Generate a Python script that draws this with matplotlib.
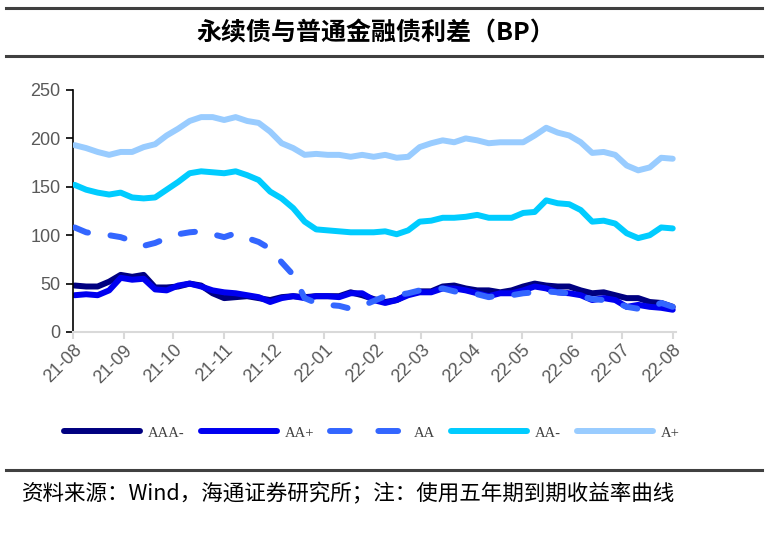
import matplotlib
matplotlib.use("Agg")
import matplotlib.pyplot as plt
import matplotlib.dates as mdates
import pandas as pd
from matplotlib.lines import Line2D

dates = pd.date_range("2021-08-02", periods=53, freq="7D")

aaa_minus = [48, 47, 47, 52, 59, 57, 59, 46, 46, 47, 50, 48, 40, 35, 36, 37, 35, 33,
             36, 37, 36, 37, 37, 37, 41, 38, 34, 31, 33, 39, 42, 42, 47, 48, 45, 43,
             43, 41, 43, 47, 50, 48, 47, 47, 43, 40, 41, 38, 35, 35, 31, 30, 26]
aa_plus = [38, 39, 38, 43, 56, 54, 55, 44, 43, 48, 50, 47, 43, 41, 40, 38, 36, 31,
           35, 37, 35, 37, 37, 36, 40, 40, 33, 30, 33, 38, 41, 41, 45, 45, 43, 40,
           37, 40, 40, 43, 47, 45, 41, 40, 38, 33, 35, 33, 26, 28, 26, 25, 23]
aa = [108, 103, 101, 100, 98, 94, 89, 92, 97, 101, 103, 104, 101, 98, 102, 97, 93, 86,
      72, 59, 35, 30, 28, 27, 24, 27, 32, 37, 38, 40, 43, 44, 45, 42, 40, 39,
      36, 38, 38, 40, 41, 42, 41, 40, 37, 34, 33, 31, 26, 24, 25, 30, 26]
aa_minus = [152, 147, 144, 142, 144, 139, 138, 139, 147, 155, 164, 166, 165, 164, 166, 162, 157, 145,
            138, 128, 114, 106, 105, 104, 103, 103, 103, 104, 101, 105, 114, 115, 118, 118, 119, 121,
            118, 118, 118, 123, 124, 136, 133, 132, 126, 114, 115, 112, 102, 97, 100, 108, 107]
a_plus = [193, 190, 186, 183, 186, 186, 191, 194, 203, 210, 218, 222, 222, 219, 222, 218, 216, 207,
          195, 190, 183, 184, 183, 183, 181, 183, 181, 183, 180, 181, 191, 195, 198, 196, 200, 198,
          195, 196, 196, 196, 203, 211, 206, 203, 196, 185, 186, 183, 172, 167, 170, 180, 179]

labels = ["AAA-", "AA+", "AA", "AA-", "A+"]
colors = ["#000080", "#0000F0", "#3366FF", "#00CCFF", "#99CCFF"]
series = [aaa_minus, aa_plus, aa, aa_minus, a_plus]

title = "永续债与普通金融债利差（BP）"
source = "资料来源：Wind，海通证券研究所；注：使用五年期到期收益率曲线"

plt.rcParams['font.family'] = ['Noto Sans CJK SC', 'DejaVu Sans']

fig = plt.figure(figsize=(7.67, 5.46), dpi=100)
ax = fig.add_axes([73/767, 1-332/546, (676-73)/767, (332-90)/546])

lw = 4.3
for vals, col, lab in zip(series, colors, labels):
    if lab == "AA":
        ax.plot(dates, vals, color=col, lw=lw, linestyle=(0, (2.4, 3.8)),
                dash_capstyle='round', dash_joinstyle='round', zorder=3)
    else:
        ax.plot(dates, vals, color=col, lw=lw, solid_capstyle='round',
                solid_joinstyle='round', zorder=2 if lab in ("AAA-", "AA+") else 3)

ax.set_ylim(0, 250)
ax.set_yticks([0, 50, 100, 150, 200, 250])
ax.set_xlim(pd.Timestamp("2021-08-01"), pd.Timestamp("2022-08-03"))
ax.xaxis.set_major_locator(mdates.MonthLocator())
ax.xaxis.set_major_formatter(mdates.DateFormatter("%y-%m"))

for s in ["top", "right"]:
    ax.spines[s].set_visible(False)
ax.spines["left"].set_color("black")
ax.spines["left"].set_linewidth(1.2)
ax.spines["bottom"].set_color("#d9d9d9")
ax.spines["bottom"].set_linewidth(1.5)
ax.tick_params(axis="y", colors="black", labelcolor="#595959", labelsize=13,
               length=5, width=1.2, direction="out", pad=4)
ax.tick_params(axis="x", colors="#d9d9d9", labelcolor="#595959", labelsize=13,
               length=5, width=1.5, direction="out", pad=2)
for lbl in ax.get_yticklabels():
    lbl.set_family(['Liberation Sans', 'DejaVu Sans'])
for lbl in ax.get_xticklabels():
    lbl.set_rotation(45)
    lbl.set_ha("right")
    lbl.set_rotation_mode("anchor")
    lbl.set_family(['Liberation Sans', 'DejaVu Sans'])

# Title and rules
fig.text(376/767, 1-33/546, title, ha="center", va="center", fontsize=18,
         fontweight="bold", color="black")
for yy in (8, 56, 470):
    fig.add_artist(Line2D([6/767, 762/767], [1-yy/546, 1-yy/546],
                          color="#404040", lw=2.2))

# Legend
handles = []
for col, lab in zip(colors, labels):
    if lab == "AA":
        h = Line2D([], [], color=col, lw=lw, linestyle=(0, (3.3, 4.8)), dash_capstyle='round')
    else:
        h = Line2D([], [], color=col, lw=lw, solid_capstyle='round')
    handles.append(h)
leg = fig.legend(handles, labels, loc="center", bbox_to_anchor=(372/767, 1-433/546),
                 ncol=5, frameon=False, handlelength=5.2, handletextpad=0.55,
                 columnspacing=1.1, prop={'family': ['Liberation Serif'], 'size': 10.5})
for t in leg.get_texts():
    t.set_color("#404040")

fig.text(22/767, 1-494/546, source, ha="left", va="center", fontsize=15.5, color="black")

fig.savefig("out.png", dpi=100)
